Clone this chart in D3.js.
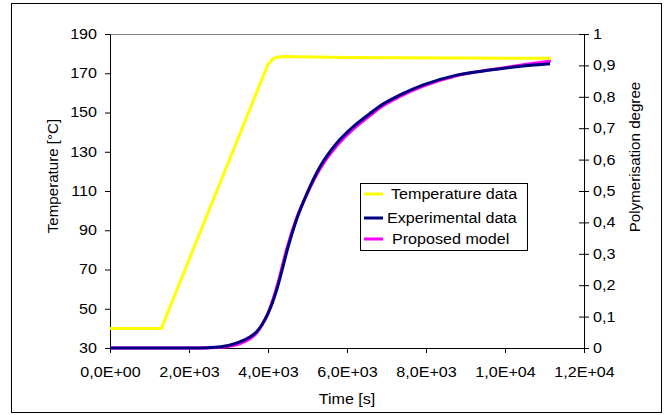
<!DOCTYPE html>
<html>
<head>
<meta charset="utf-8">
<script src="https://cdn.jsdelivr.net/npm/d3@7"></script>
<style>
  body { margin: 0; background: #fff; }
  svg { display: block; font-family: "Liberation Sans", Arial, sans-serif; }
  svg text { font-family: "Liberation Sans", Arial, sans-serif; font-size: 14px; fill: #000; }
</style>
</head>
<body>
<div class="chart"></div>
<script>
// Temperature data [s, °C]
const tempTime = [0, 1300, 4000, 4100, 4200, 4350, 6000, 11165]
const tempValue = [40, 40, 174.5, 176.8, 178, 178.5, 178, 177.6]

// Experimental polymerisation degree
const expTime = [0, 2000, 2500, 2800, 3000, 3300, 3550, 3700, 3850, 4000, 4100, 4220, 4350, 4473, 4726, 4979, 5316, 5738, 6160, 6582, 6835, 7342, 7932, 8776, 9620, 10464, 11140]
const expValue = [0, 0, 0.001, 0.004, 0.008, 0.02, 0.036, 0.05, 0.075, 0.11, 0.14, 0.185, 0.245, 0.305, 0.41, 0.49, 0.577, 0.652, 0.705, 0.747, 0.771, 0.806, 0.838, 0.869, 0.885, 0.898, 0.905]

// Proposed model
const modelTime = [0, 2000, 2500, 2800, 3000, 3300, 3550, 3700, 3850, 4000, 4100, 4220, 4350, 4473, 4726, 4979, 5316, 5738, 6160, 6582, 6835, 7342, 7932, 8776, 9620, 10464, 11160]
const modelValue = [0, 0, 0.0005, 0.002, 0.005, 0.014, 0.03, 0.046, 0.073, 0.11, 0.145, 0.193, 0.255, 0.315, 0.415, 0.488, 0.57, 0.643, 0.697, 0.74, 0.765, 0.801, 0.834, 0.867, 0.886, 0.902, 0.914]

const xTicks = [0, 2000, 4000, 6000, 8000, 10000, 12000]
const xTickLabels = ['0,0E+00', '2,0E+03', '4,0E+03', '6,0E+03', '8,0E+03', '1,0E+04', '1,2E+04']
const tempTicks = [30, 50, 70, 90, 110, 130, 150, 170, 190]
const degTicks = [0, 0.1, 0.2, 0.3, 0.4, 0.5, 0.6, 0.7, 0.8, 0.9, 1]

const legendLabels = ['Temperature data', 'Experimental data', 'Proposed model']
const legendColors = ['#ffff00', '#000080', '#ff00ff']

const width = 664
const height = 415
const margin = { top: 34, right: 80, bottom: 67, left: 110 }
const innerWidth = width - margin.left - margin.right
const innerHeight = height - margin.top - margin.bottom

const svg = d3.select('.chart')
  .append('svg')
  .attr('width', width)
  .attr('height', height)

// outer frame
svg.append('rect')
  .attr('x', 11.5)
  .attr('y', 3.5)
  .attr('width', 650)
  .attr('height', 409)
  .attr('fill', 'none')
  .attr('stroke', '#000')

const g = svg.append('g')
  .attr('transform', `translate(${margin.left},${margin.top})`)

const x = d3.scaleLinear().domain([0, 12000]).range([0, innerWidth])
const yT = d3.scaleLinear().domain([30, 190]).range([innerHeight, 0])
const yP = d3.scaleLinear().domain([0, 1]).range([innerHeight, 0])

// plot area top border
g.append('line')
  .attr('x1', 0).attr('x2', innerWidth)
  .attr('y1', 0.5).attr('y2', 0.5)
  .attr('stroke', '#808080')

// axes
const xAxis = d3.axisBottom(x)
  .tickValues(xTicks)
  .tickSize(5)
  .tickPadding(14)
  .tickFormat((d, i) => xTickLabels[i])

const yAxisLeft = d3.axisLeft(yT)
  .tickValues(tempTicks)
  .tickSize(5)
  .tickPadding(8)

const yAxisRight = d3.axisRight(yP)
  .tickValues(degTicks)
  .tickSize(5)
  .tickPadding(4)
  .tickFormat(d => d3.format('.1~f')(d).replace('.', ','))

g.append('g')
  .attr('class', 'axis axis--x')
  .attr('transform', `translate(0,${innerHeight})`)
  .call(xAxis)

g.append('g')
  .attr('class', 'axis axis--y')
  .call(yAxisLeft)

const right = g.append('g')
  .attr('class', 'axis axis--y2')
  .attr('transform', `translate(${innerWidth},0)`)
  .call(yAxisRight)

// right ticks cross the axis
right.selectAll('.tick line').attr('x1', -5)

g.selectAll('.axis .domain').attr('stroke', '#000')
g.selectAll('.axis .tick line').attr('stroke', '#000')

// axis titles
svg.append('text')
  .attr('class', 'hz')
  .attr('x', 347)
  .attr('y', 404)
  .attr('text-anchor', 'middle')
  .text('Time [s]')

svg.append('text')
  .attr('class', 'vt')
  .attr('transform', `translate(58,176) rotate(-90)`)
  .attr('text-anchor', 'middle')
  .text('Temperature [°C]')

svg.append('text')
  .attr('class', 'vt')
  .attr('transform', `translate(640,157) rotate(-90)`)
  .attr('text-anchor', 'middle')
  .text('Polymerisation degree')

// lines
const tempLine = d3.line()
  .x(d => x(d[0]))
  .y(d => yT(d[1]))

const degLine = d3.line()
  .x(d => x(d[0]))
  .y(d => yP(d[1]))
  .curve(d3.curveMonotoneX)

g.append('path')
  .datum(modelTime.map((t, i) => [t, modelValue[i]]))
  .attr('fill', 'none')
  .attr('stroke', legendColors[2])
  .attr('stroke-width', 3)
  .attr('d', degLine)

g.append('path')
  .datum(expTime.map((t, i) => [t, expValue[i]]))
  .attr('fill', 'none')
  .attr('stroke', legendColors[1])
  .attr('stroke-width', 3)
  .attr('d', degLine)

g.append('path')
  .datum(tempTime.map((t, i) => [t, tempValue[i]]))
  .attr('fill', 'none')
  .attr('stroke', legendColors[0])
  .attr('stroke-width', 3)
  .attr('stroke-linejoin', 'round')
  .attr('d', tempLine)

// legend
const legend = svg.append('g')
  .attr('transform', 'translate(360,183)')

legend.append('rect')
  .attr('x', 0.5)
  .attr('y', 0.5)
  .attr('width', 167)
  .attr('height', 67)
  .attr('fill', '#fff')
  .attr('stroke', '#000')

const textX = [31, 27, 32]
const rowY = [11, 35, 56]

legendLabels.forEach((label, i) => {
  legend.append('line')
    .attr('x1', 4).attr('x2', 23)
    .attr('y1', rowY[i]).attr('y2', rowY[i])
    .attr('stroke', legendColors[i])
    .attr('stroke-width', 3)

  legend.append('text')
    .attr('x', textX[i])
    .attr('y', rowY[i])
    .attr('dy', '0.35em')
    .text(label)
})

// the original's text is a bit wider than Arial, stretch it a little
svg.selectAll('text').each(function() {
  const k = d3.select(this).classed('vt') ? 1.08 : 1.15
  const len = this.getComputedTextLength()
  d3.select(this)
    .attr('textLength', len * k)
    .attr('lengthAdjust', 'spacingAndGlyphs')
})
</script>
</body>
</html>
